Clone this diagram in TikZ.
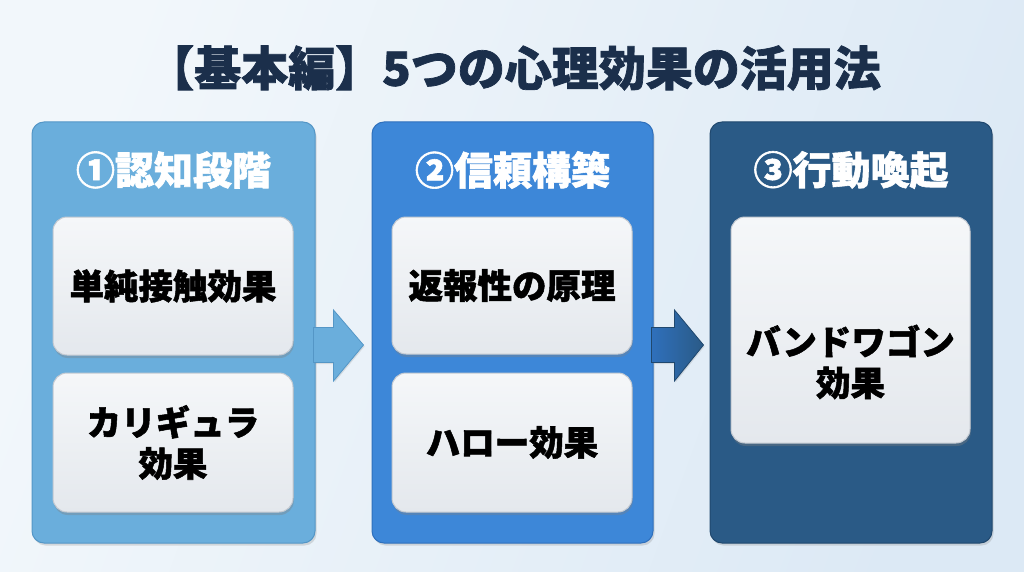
\documentclass[tikz,border=0pt]{standalone}
\usepackage{fontspec}
\setmainfont{Noto Sans CJK JP}
\newfontfamily\heavyjp{Noto Sans CJK JP}[BoldFeatures={FakeBold=1.5}]
\usetikzlibrary{shadows,calc}
\definecolor{titlec}{HTML}{1B2F4B}
\definecolor{bgl}{HTML}{F2F7FB}
\definecolor{bgr}{HTML}{DCE9F5}
\definecolor{pone}{HTML}{6AAEDC}
\definecolor{ponee}{HTML}{5496C6}
\definecolor{ptwo}{HTML}{3D87D8}
\definecolor{ptwoe}{HTML}{2F70BC}
\definecolor{pthree}{HTML}{2A5A86}
\definecolor{pthreee}{HTML}{20486E}
\definecolor{cardtop}{HTML}{F5F7F9}
\definecolor{cardbot}{HTML}{E4E8ED}
\definecolor{carde}{HTML}{C3C9D1}
\begin{document}
\begin{tikzpicture}[x=1pt,y=-1pt,
  panel/.style={rounded corners=12pt, line width=1pt, inner sep=0pt,
    drop shadow={opacity=0.25, shadow xshift=1.5pt, shadow yshift=-2.5pt}},
  head/.style={text=white, font=\fontsize{39}{46}\selectfont\heavyjp\bfseries, inner sep=0pt},
  card/.style={rounded corners=14pt, top color=cardtop, bottom color=cardbot,
    draw=carde, line width=1pt, inner sep=0pt,
    font=\fontsize{34.5}{41}\selectfont\heavyjp\bfseries, align=center,
    drop shadow={opacity=0.35, shadow xshift=0.8pt, shadow yshift=-3pt}},
  cardtext/.style={font=\fontsize{34.5}{41}\selectfont\heavyjp\bfseries, align=center, inner sep=0pt},
  blockarrow/.style={line width=0.8pt, line join=miter,
    drop shadow={opacity=0.2, shadow xshift=1pt, shadow yshift=-1.5pt}}
]
\useasboundingbox (0,0) rectangle (1024,572);
\shade[left color=bgl, right color=bgr, shading angle=70] (0,0) rectangle (1024,572);

\node[font=\fontsize{47}{54}\selectfont\heavyjp\bfseries, text=titlec, inner sep=0pt] (title) at (514,68) {【基本編】5つの心理効果の活用法};

% panels
\node[panel, fill=pone, draw=ponee, minimum width=283pt, minimum height=421pt] (p1) at (173.5,332.5) {};
\node[panel, fill=ptwo, draw=ptwoe, minimum width=281pt, minimum height=421pt] (p2) at (512.5,332.5) {};
\node[panel, fill=pthree, draw=pthreee, minimum width=282pt, minimum height=421pt] (p3) at (851,332.5) {};

% arrows
\coordinate (a1) at ($(p1.east)+(-2,12.5)$);
\draw[blockarrow, fill=pone, draw=ponee] (a1) ++(0,-17.5) -- ++(20,0) -- ++(0,-17.5) -- ++(30,35) -- ++(-30,36) -- ++(0,-18.5) -- ++(-20,0) -- cycle;
\coordinate (a2) at ($(p2.east)+(-2,12.5)$);
\draw[blockarrow, left color=ptwoe, right color=pthree, draw=pthreee] (a2) ++(0,-17.5) -- ++(23,0) -- ++(0,-17.5) -- ++(29,35) -- ++(-29,36) -- ++(0,-18.5) -- ++(-23,0) -- cycle;

% headers
\node[head] (h1) at (173.5,170) {①認知段階};
\node[head] (h2) at (512.5,170) {②信頼構築};
\node[head] (h3) at (851,170) {③行動喚起};

% cards
\node[card, minimum width=240pt, minimum height=138pt] (c11) at (173,286) {単純接触効果};
\node[card, minimum width=240pt, minimum height=139pt] (c12) at (173,442.5) {カリギュラ\\効果};
\node[card, minimum width=240pt, minimum height=137pt] (c21) at (512,285.5) {返報性の原理};
\node[card, minimum width=240pt, minimum height=139pt] (c22) at (512,442.5) {ハロー効果};
\node[card, minimum width=239pt, minimum height=226pt] (c31) at (850.5,330) {};
\node[cardtext] (t31) at (850.5,362) {バンドワゴン\\効果};
\end{tikzpicture}
\end{document}
